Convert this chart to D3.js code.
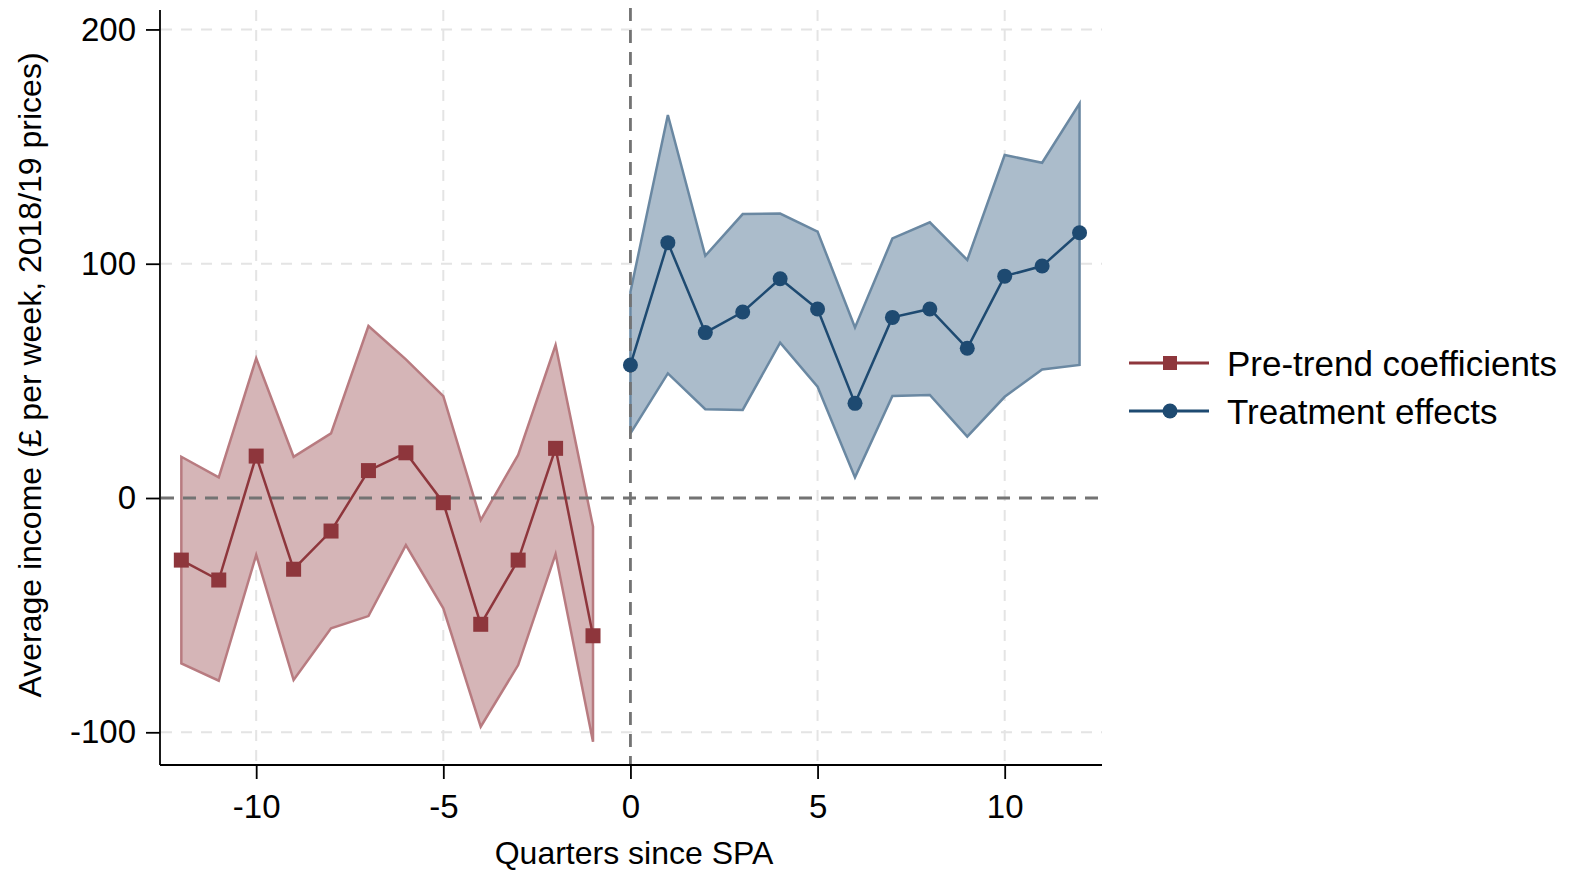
<!DOCTYPE html>
<html><head><meta charset="utf-8">
<script src="https://cdn.jsdelivr.net/npm/d3@7"></script>
<style>body{margin:0;background:#fff}svg{display:block}text{font-family:"Liberation Sans",Arial,sans-serif;fill:#000}</style>
</head><body><svg id="c" width="1575" height="870"></svg>
<script>
const preX = [-12,-11,-10,-9,-8,-7,-6,-5,-4,-3,-2,-1];
const preCoef = [-26.5,-35,17.9,-30.4,-14.1,11.7,19.3,-2,-53.9,-26.5,21.2,-58.8];
const preHi = [17.6,8.8,59.6,17.6,27.6,73.4,59.2,43.5,-9.4,18.4,65.3,-12.2];
const preLo = [-70.6,-78,-24.3,-77.7,-55.6,-50.4,-20.1,-47.1,-97.6,-71.3,-23.9,-104];
const postX = [0,1,2,3,4,5,6,7,8,9,10,11,12];
const postCoef = [56.8,109,70.6,79.4,93.6,80.7,40.4,77.1,80.7,63.9,94.7,99,113.2];
const postHi = [88,163.5,103.4,121.2,121.4,113.7,72.8,110.8,117.7,101.6,146.4,143.1,168.4];
const postLo = [27.6,53.2,37.9,37.6,66.3,47.5,8.8,43.5,44,26.2,43.2,54.9,56.8];
const xTicks = [-10,-5,0,5,10];
const yTicks = [-100,0,100,200];
const legendLabels = ["Pre-trend coefficients","Treatment effects"];

const svg = d3.select("#c");
const x = d3.scaleLinear().domain([-12.57,12.6]).range([160,1102]);
const y = d3.scaleLinear().domain([-113.96,208.3]).range([765,10]);

const red = "#8e363c", redFill = "#d5b5b7", redStroke = "#b87b80";
const blue = "#1e4a71", blueFill = "#abbccb", blueStroke = "#6a88a2";
const fmt = d => String(d);

// grid
const grid = svg.append("g");
grid.selectAll(".gy").data(yTicks.filter(d=>d!==0)).join("line")
  .attr("x1",161).attr("x2",1102).attr("y1",d=>y(d)).attr("y2",d=>y(d))
  .attr("stroke","#e4e4e4").attr("stroke-width",2).attr("stroke-dasharray","11,9");
grid.selectAll(".gx").data(xTicks.filter(d=>d!==0)).join("line")
  .attr("x1",d=>x(d)).attr("x2",d=>x(d)).attr("y1",10).attr("y2",764)
  .attr("stroke","#e4e4e4").attr("stroke-width",2).attr("stroke-dasharray","11,9");

function band(xs, lo, hi, fill, stroke){
  const data = xs.map((v,i)=>({x:v,lo:lo[i],hi:hi[i]}));
  svg.append("path").datum(data)
    .attr("d", d3.area().x(d=>x(d.x)).y0(d=>y(d.lo)).y1(d=>y(d.hi)))
    .attr("fill",fill).attr("stroke",stroke).attr("stroke-width",2.5).attr("stroke-linejoin","miter");
}
band(preX,preLo,preHi,redFill,redStroke);
band(postX,postLo,postHi,blueFill,blueStroke);

// reference lines
svg.append("line").attr("x1",161).attr("x2",1102).attr("y1",y(0)).attr("y2",y(0))
  .attr("stroke","#737373").attr("stroke-width",2.8).attr("stroke-dasharray","13,9");
svg.append("line").attr("x1",x(0)).attr("x2",x(0)).attr("y1",8).attr("y2",764)
  .attr("stroke","#737373").attr("stroke-width",2.8).attr("stroke-dasharray","13,9");

// series lines
const line = d3.line().x(d=>x(d[0])).y(d=>y(d[1]));
svg.append("path").datum(preX.map((v,i)=>[v,preCoef[i]])).attr("d",line)
  .attr("fill","none").attr("stroke",red).attr("stroke-width",2.5);
svg.append("path").datum(postX.map((v,i)=>[v,postCoef[i]])).attr("d",line)
  .attr("fill","none").attr("stroke",blue).attr("stroke-width",2.5);
svg.selectAll(".sq").data(preX.map((v,i)=>[v,preCoef[i]])).join("rect")
  .attr("x",d=>x(d[0])-7.5).attr("y",d=>y(d[1])-7.5).attr("width",15).attr("height",15).attr("fill",red);
svg.selectAll(".ci").data(postX.map((v,i)=>[v,postCoef[i]])).join("circle")
  .attr("cx",d=>x(d[0])).attr("cy",d=>y(d[1])).attr("r",7.5).attr("fill",blue);

// axes
const yAxis = svg.append("g").attr("transform","translate(160,0)")
  .call(d3.axisLeft(y).tickValues(yTicks).tickFormat(fmt).tickSize(14).tickPadding(10));
const xAxis = svg.append("g").attr("transform","translate(0,765)")
  .call(d3.axisBottom(x).tickValues(xTicks).tickFormat(fmt).tickSize(14).tickPadding(16));
[yAxis,xAxis].forEach(a=>{
  a.select(".domain").attr("stroke","#000").attr("stroke-width",1.8);
  a.selectAll(".tick line").attr("stroke","#000").attr("stroke-width",1.8);
  a.selectAll(".tick text").attr("font-size",33).attr("font-family","'Liberation Sans',Arial,sans-serif").attr("fill","#000");
});
yAxis.select(".domain").attr("d","M0,765V10");
xAxis.select(".domain").attr("d","M160,0H1102");

// titles
svg.append("text").attr("transform","translate(41,375) rotate(-90)").attr("text-anchor","middle")
  .attr("font-size",32).text("Average income (£ per week, 2018/19 prices)");
svg.append("text").attr("x",634).attr("y",864).attr("text-anchor","middle")
  .attr("font-size",32).text("Quarters since SPA");

// legend
const leg = svg.append("g");
const legColors = [red, blue];
legendLabels.forEach((lab,i)=>{
  const ly = 363 + i*48;
  leg.append("line").attr("x1",1129).attr("x2",1209).attr("y1",ly).attr("y2",ly)
    .attr("stroke",legColors[i]).attr("stroke-width",3);
  if(i===0) leg.append("rect").attr("x",1163).attr("y",ly-7).attr("width",14).attr("height",14).attr("fill",red);
  else leg.append("circle").attr("cx",1170).attr("cy",ly).attr("r",7.5).attr("fill",blue);
  leg.append("text").attr("x",1227).attr("y",ly).attr("dy","0.36em").attr("font-size",35).text(lab);
});
</script></body></html>
